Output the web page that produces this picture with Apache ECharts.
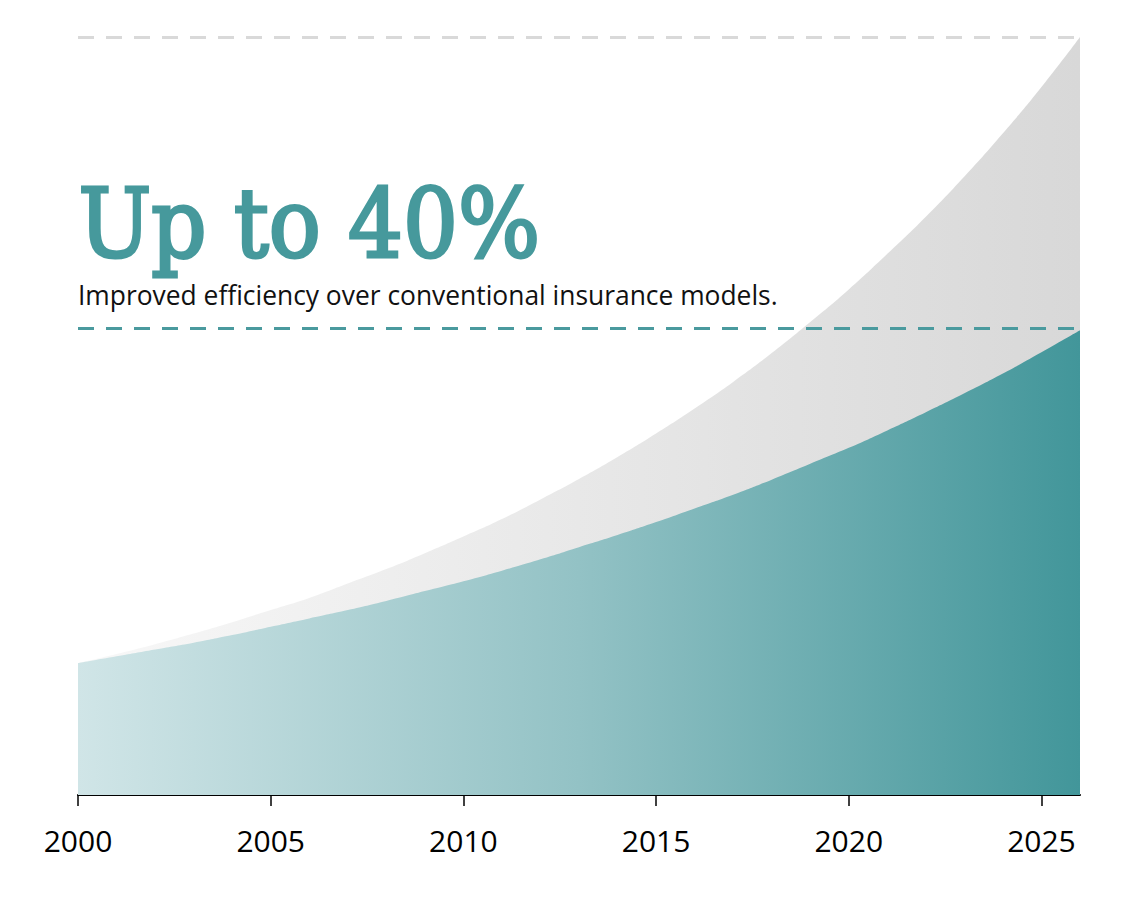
<!DOCTYPE html>
<html>
<head>
<meta charset="utf-8">
<script src="https://cdn.jsdelivr.net/npm/echarts@6/dist/echarts.min.js"></script>
<style>
  html, body { margin: 0; padding: 0; background: #ffffff; }
  #chart { width: 1140px; height: 898px; }
</style>
</head>
<body>
<div id="chart"></div>
<script>
// ---- data ----
const years = [2000, 2001, 2002, 2003, 2004, 2005, 2006, 2007, 2008, 2009, 2010,
               2011, 2012, 2013, 2014, 2015, 2016, 2017, 2018, 2019, 2020,
               2021, 2022, 2023, 2024, 2025, 2026];
const conventional = [17.4, 18.6, 19.9, 21.3, 22.8, 24.4, 26.0, 27.9, 29.8, 31.9, 34.1,
                      36.4, 39.0, 41.7, 44.6, 47.7, 51.0, 54.5, 58.3, 62.4, 66.7,
                      71.4, 76.3, 81.6, 87.3, 93.4, 100.0];
const improved = [17.4, 18.3, 19.2, 20.1, 21.1, 22.2, 23.3, 24.4, 25.6, 26.9, 28.2,
                  29.6, 31.1, 32.7, 34.3, 36.0, 37.8, 39.6, 41.6, 43.7, 45.8,
                  48.1, 50.5, 53.0, 55.6, 58.4, 61.3];
const tickYears = [2000, 2005, 2010, 2015, 2020, 2025];
const conventionalLevel = 100;
const improvedLevel = 61.6;
const headline = 'Up to 40%';
const subline = 'Improved efficiency over conventional insurance models.';

const chart = echarts.init(document.getElementById('chart'), null, { renderer: 'svg' });

const pairs = (vals) => years.map((y, i) => [y, vals[i]]);

chart.setOption({
  animation: false,
  backgroundColor: '#ffffff',
  grid: { left: 78, right: 60, top: 37, bottom: 103, containLabel: false },
  xAxis: {
    type: 'value',
    min: 2000,
    max: 2026,
    interval: 5,
    splitLine: { show: false },
    axisLine: { show: true, lineStyle: { color: '#000000', width: 2 } },
    axisTick: { show: true, length: 11, lineStyle: { color: '#000000', width: 1.5 }, customValues: tickYears },
    axisLabel: {
      customValues: tickYears,
      formatter: (v) => String(v),
      color: '#000000',
      fontFamily: 'Open Sans',
      fontSize: 30,
      margin: 30
    }
  },
  yAxis: {
    type: 'value',
    min: 0,
    max: 100,
    show: false,
    splitLine: { show: false }
  },
  series: [
    {
      name: 'Conventional',
      type: 'line',
      smooth: true,
      showSymbol: false,
      silent: true,
      lineStyle: { width: 0 },
      data: pairs(conventional),
      areaStyle: {
        opacity: 1,
        color: {
          type: 'linear', x: 0, y: 0, x2: 1, y2: 0,
          colorStops: [
            { offset: 0, color: '#f8f8f8' },
            { offset: 1, color: '#d8d8d8' }
          ]
        }
      },
      markLine: {
        silent: true,
        symbol: ['none', 'none'],
        label: { show: false },
        lineStyle: { color: '#d9d9d9', width: 3, type: [16, 12] },
        data: [{ yAxis: conventionalLevel }]
      },
      z: 2
    },
    {
      name: 'Improved',
      type: 'line',
      smooth: true,
      showSymbol: false,
      silent: true,
      lineStyle: { width: 0 },
      data: pairs(improved),
      areaStyle: {
        opacity: 1,
        color: {
          type: 'linear', x: 0, y: 0, x2: 1, y2: 0,
          colorStops: [
            { offset: 0, color: '#d0e5e7' },
            { offset: 0.5, color: '#93c2c5' },
            { offset: 1, color: '#42969a' }
          ]
        }
      },
      markLine: {
        silent: true,
        symbol: ['none', 'none'],
        label: { show: false },
        lineStyle: { color: '#4a9a9e', width: 3, type: [16, 12] },
        data: [{ yAxis: improvedLevel }]
      },
      z: 3
    }
  ],
  graphic: [
    {
      type: 'text',
      left: 77,
      top: 174,
      z: 10,
      style: {
        text: headline,
        fill: '#46999c',
        stroke: '#46999c',
        lineWidth: 3,
        font: '96px "DejaVu Serif Condensed"'
      }
    },
    {
      type: 'text',
      left: 78,
      top: 282,
      z: 10,
      style: {
        text: subline,
        fill: '#111111',
        font: '26.4px "Open Sans"'
      }
    }
  ]
});
</script>
</body>
</html>
